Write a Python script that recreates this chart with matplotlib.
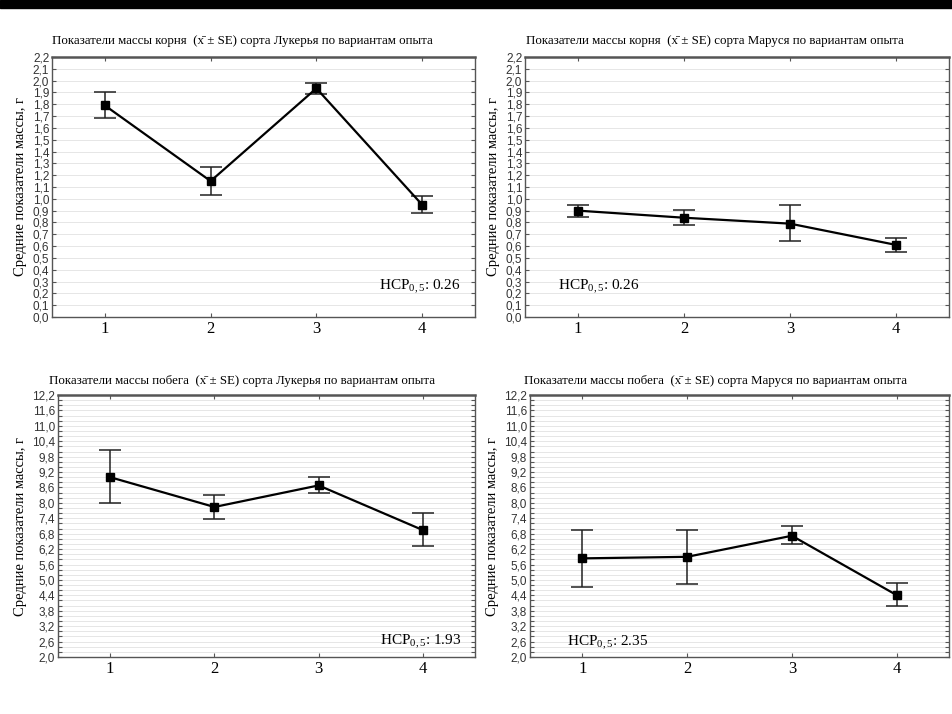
import numpy as np
import matplotlib
matplotlib.use('Agg')
import matplotlib.pyplot as plt
from matplotlib.patches import Rectangle
from matplotlib.ticker import MultipleLocator, FixedLocator, FuncFormatter

plt.rcParams['mathtext.fontset'] = 'custom'
plt.rcParams['mathtext.rm'] = 'Liberation Serif'
plt.rcParams['mathtext.it'] = 'Liberation Serif:italic'

variants = [1, 2, 3, 4]

# масса корня, Лукерья
root_luk = [1.79, 1.15, 1.935, 0.95]
root_luk_lo = [1.68, 1.035, 1.89, 0.88]
root_luk_hi = [1.90, 1.27, 1.98, 1.02]

# масса корня, Маруся
root_mar = [0.90, 0.84, 0.79, 0.61]
root_mar_lo = [0.85, 0.78, 0.64, 0.55]
root_mar_hi = [0.95, 0.905, 0.95, 0.67]

# масса побега, Лукерья
shoot_luk = [9.0, 7.84, 8.68, 6.94]
shoot_luk_lo = [7.98, 7.37, 8.37, 6.31]
shoot_luk_hi = [10.05, 8.30, 9.01, 7.60]

# масса побега, Маруся
shoot_mar = [5.84, 5.90, 6.72, 4.41]
shoot_mar_lo = [4.72, 4.85, 6.40, 4.00]
shoot_mar_hi = [6.96, 6.96, 7.10, 4.87]

titles = [
    'Показатели массы корня  (x\u0304 ± SE) сорта Лукерья по вариантам опыта',
    'Показатели массы корня  (x\u0304 ± SE) сорта Маруся по вариантам опыта',
    'Показатели массы побега  (x\u0304 ± SE) сорта Лукерья по вариантам опыта',
    'Показатели массы побега  (x\u0304 ± SE) сорта Маруся по вариантам опыта',
]
hcp = ['0.26', '0.26', '1.93', '2.35']
ylabel = 'Средние показатели массы, г'

W, H = 952, 714
fig = plt.figure(figsize=(W/100, H/100), dpi=100)
fig.patches.append(Rectangle((0, 1-8/H), 1, 8/H, transform=fig.transFigure,
                             color='black', zorder=10))

# left, top, right, bottom in px
boxes = [(52, 57, 475, 317), (525, 57, 949, 317),
         (58, 395, 475, 657), (530, 395, 949, 657)]
title_x = [52, 526, 49, 524]
title_y = [41, 41, 381, 381]
hcp_pos = [(0.965, 0.115, 'right'), (0.078, 0.115, 'left'),
           (0.966, 0.057, 'right'), (0.088, 0.055, 'left')]

series = [(root_luk, root_luk_lo, root_luk_hi),
          (root_mar, root_mar_lo, root_mar_hi),
          (shoot_luk, shoot_luk_lo, shoot_luk_hi),
          (shoot_mar, shoot_mar_lo, shoot_mar_hi)]

comma = FuncFormatter(lambda v, p: ('%.1f' % v).replace('.', ','))

for i in range(4):
    l, t, r, b = boxes[i]
    ax = fig.add_axes([l/W, 1-b/H, (r-l)/W, (b-t)/H])
    m, lo, hi = series[i]
    m = np.array(m); lo = np.array(lo); hi = np.array(hi)
    ax.errorbar(variants, m, yerr=[m-lo, hi-m], fmt='none', ecolor='#222222',
                elinewidth=1.1, capsize=8, capthick=1.1, zorder=3)
    ax.plot(variants, m, color='black', lw=1.6, marker='s', ms=5.5, zorder=4)
    ax.set_xlim(0.5, 4.5)
    ax.set_xticks(variants)
    if i < 2:
        ax.set_ylim(0, 2.2)
        ax.yaxis.set_major_locator(FixedLocator(np.round(np.arange(0, 2.25, 0.1), 1)))
        ax.grid(axis='y', which='major', color='#e6e6e6', lw=0.7)
    else:
        ax.set_ylim(2.0, 12.2)
        ax.yaxis.set_major_locator(FixedLocator(np.round(np.arange(2.0, 12.25, 0.6), 1)))
        ax.yaxis.set_minor_locator(FixedLocator(np.round(np.arange(2.0, 12.25, 0.2), 1)))
        ax.grid(axis='y', which='both', color='#e6e6e6', lw=0.7)
    ax.set_axisbelow(True)
    ax.yaxis.set_major_formatter(comma)
    for lab in ax.get_yticklabels():
        lab.set_family('Liberation Sans')
        lab.set_fontsize(8.5)
        lab.set_color('#333333')
    for lab in ax.get_xticklabels():
        lab.set_family('Liberation Serif')
        lab.set_fontsize(12)
    ax.tick_params(axis='both', which='both', direction='in', top=True, right=True,
                   length=3, width=0.8, color='#555555')
    ax.tick_params(axis='y', which='major', pad=2)
    ax.tick_params(axis='x', which='major', pad=3)
    for s in ax.spines.values():
        s.set_color('#555555')
        s.set_linewidth(1.0)
    ax.spines['top'].set_linewidth(1.8)
    ax.set_ylabel(ylabel, family='Liberation Serif', fontsize=10.5, labelpad=4)
    hx, hy, ha = hcp_pos[i]
    ax.text(hx, hy, 'НСР$_{0,5}$: ' + hcp[i], transform=ax.transAxes, ha=ha,
            va='center', family='Liberation Serif', fontsize=11)
    fig.text(title_x[i]/W, 1-title_y[i]/H, titles[i], ha='left', va='center',
             family='Liberation Serif', fontsize=9.3)

fig.savefig('out.png', dpi=100)
